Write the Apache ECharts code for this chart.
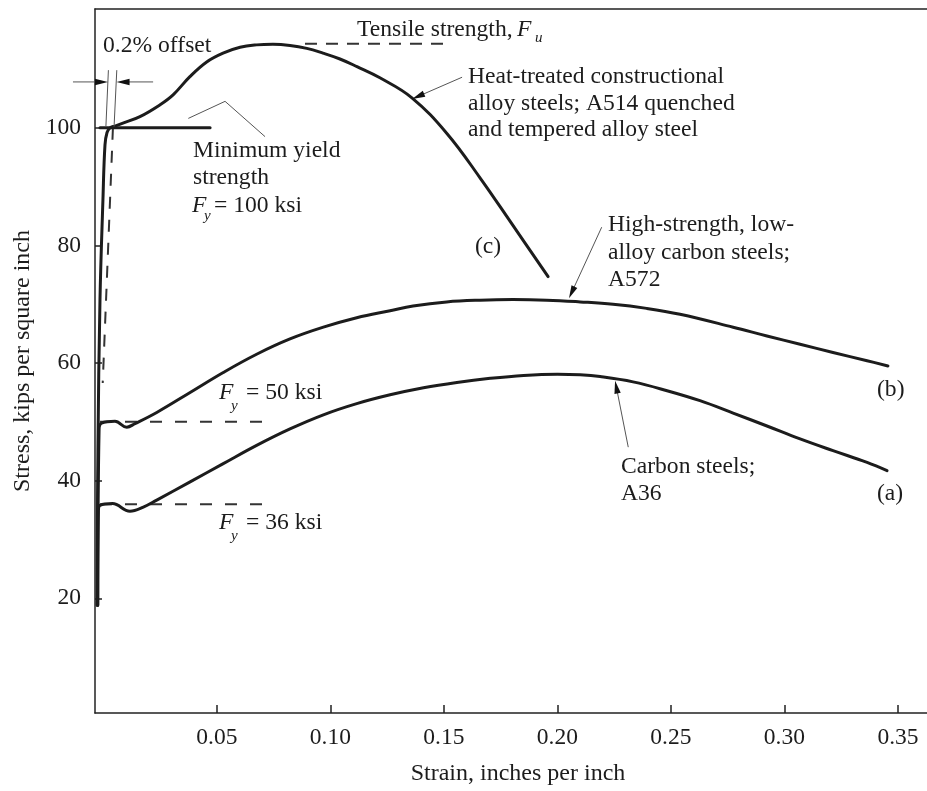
<!DOCTYPE html>
<html>
<head>
<meta charset="utf-8">
<script src="https://cdn.jsdelivr.net/npm/echarts@6/dist/echarts.min.js"></script>
<style>
  html, body { margin: 0; padding: 0; background: #fff; }
  #chart { width: 927px; height: 791px; }
</style>
</head>
<body>
<div id="chart"></div>
<script>
// Stress–strain curves for three structural steels.
// x = strain (in./in.), y = stress (ksi)

const xTicks = [0.05, 0.10, 0.15, 0.20, 0.25, 0.30, 0.35];
const yTicks = [20, 40, 60, 80, 100];

// (a) Carbon steel, A36
const carbonA36 = [
  [-0.0025, 18.8], [-0.0022, 34.9], [-0.0015, 35.8], [0.0040, 36.1], [0.0117, 34.8],
  [0.0176, 35.5], [0.0235, 36.7], [0.0382, 39.8], [0.0528, 42.9], [0.0675, 46.0],
  [0.0822, 48.8], [0.0969, 51.2], [0.1116, 53.1], [0.1263, 54.6], [0.1410, 55.8],
  [0.1557, 56.7], [0.1704, 57.4], [0.1851, 57.9], [0.2000, 58.1], [0.2100, 58.0],
  [0.2188, 57.7], [0.2333, 56.8], [0.2483, 55.3], [0.2628, 53.6], [0.2774, 51.5],
  [0.2923, 49.3], [0.3069, 47.1], [0.3214, 45.1], [0.3364, 43.1], [0.3452, 41.7]
];

// (b) High-strength low-alloy steel, A572
const hslaA572 = [
  [-0.0025, 18.8], [-0.0019, 48.8], [-0.0008, 49.8], [0.0051, 50.1], [0.0103, 49.1],
  [0.0139, 49.7], [0.0235, 51.6], [0.0382, 55.0], [0.0528, 58.4], [0.0675, 61.5],
  [0.0822, 64.1], [0.0969, 66.1], [0.1116, 67.7], [0.1263, 68.9], [0.1364, 69.7],
  [0.1512, 70.4], [0.1659, 70.7], [0.1804, 70.8], [0.1953, 70.7], [0.2100, 70.4],
  [0.2245, 70.0], [0.2393, 69.3], [0.2540, 68.3], [0.2774, 66.1], [0.2923, 64.6],
  [0.3069, 63.2], [0.3214, 61.8], [0.3364, 60.4], [0.3456, 59.5]
];

// (c) Quenched and tempered alloy steel, A514
const alloyA514 = [
  [-0.0028, 18.8], [-0.0024, 45.4], [-0.0015, 70.8], [-0.0002, 87.8], [0.0007, 97.1],
  [0.0016, 99.2], [0.0029, 100.0], [0.0051, 100.3], [0.0086, 100.8], [0.0161, 101.9],
  [0.0249, 103.9], [0.0307, 105.6], [0.0381, 108.7], [0.0455, 111.2], [0.0527, 112.7],
  [0.0602, 113.7], [0.0675, 114.1], [0.0747, 114.2], [0.0822, 114.0], [0.0896, 113.5],
  [0.0967, 112.7], [0.1042, 111.7], [0.1117, 110.4], [0.1218, 108.5], [0.1359, 105.1],
  [0.1514, 99.0], [0.1659, 91.5], [0.1804, 83.4], [0.1959, 74.7]
];

// Idealised yield plateau at Fy = 100 ksi
const a514Plateau = [[-0.0015, 100], [0.0470, 100]];

// Reference lines (dashed)
const offsetLine = [[0.0042, 100], [-0.0003, 56.6]];
const yield50Line = [[-0.0015, 50], [0.0712, 50]];
const yield36Line = [[-0.0015, 36], [0.0712, 36]];
const tensileLine = [[0.0888, 114.3], [0.1496, 114.3]];

// Thin leader lines: [x1, y1, x2, y2, arrowhead at end (1) or not (0)]
const leaderLines = [
  [0.0022, 109.8, 0.0011, 100.2, 0],
  [0.0059, 109.8, 0.0047, 100.2, 0],
  [0.0374, 101.6, 0.0536, 104.5, 0],
  [0.0536, 104.5, 0.0712, 98.5, 0],
  [-0.0134, 107.8, 0.0020, 107.8, 1],
  [0.0219, 107.8, 0.0058, 107.8, 1],
  [0.1580, 108.6, 0.1360, 104.9, 1],
  [0.2195, 83.1, 0.2051, 71.0, 1],
  [0.2312, 45.7, 0.2254, 57.0, 1]
];

const FONT = '"Liberation Serif", "Times New Roman", serif';
const INK = '#1c1c1c';

function curve(name, data) {
  return {
    name, type: 'line', data, symbol: 'none', showSymbol: false, smooth: 0.4,
    clip: false, silent: true, animation: false, z: 3,
    lineStyle: { color: INK, width: 3, cap: 'round', join: 'round' }
  };
}
function dashed(name, data, dash) {
  return {
    name, type: 'line', data, symbol: 'none', showSymbol: false,
    clip: false, silent: true, animation: false, z: 2,
    lineStyle: { color: '#333', width: 2, type: dash }
  };
}

// Leader line, optionally ending in a filled arrowhead whose tip sits on the end point
function renderLeader(params, api) {
  const p1 = api.coord([api.value(0), api.value(1)]);
  const p2 = api.coord([api.value(2), api.value(3)]);
  const hasHead = api.value(4) === 1;
  const children = [];
  const dx = p2[0] - p1[0], dy = p2[1] - p1[1];
  const len = Math.sqrt(dx * dx + dy * dy) || 1;
  const ux = dx / len, uy = dy / len;
  const headLen = 13, headHalf = 3.2;
  const end = hasHead ? [p2[0] - ux * headLen * 0.8, p2[1] - uy * headLen * 0.8] : p2;
  children.push({
    type: 'line',
    shape: { x1: p1[0], y1: p1[1], x2: end[0], y2: end[1] },
    style: { stroke: '#555', lineWidth: 1 }
  });
  if (hasHead) {
    const bx = p2[0] - ux * headLen, by = p2[1] - uy * headLen;
    children.push({
      type: 'polygon',
      shape: { points: [[p2[0], p2[1]], [bx - uy * headHalf, by + ux * headHalf], [bx + uy * headHalf, by - ux * headHalf]] },
      style: { fill: '#111' }
    });
  }
  return { type: 'group', children };
}

// Text annotations: [text, left x, baseline y, font size, italic]
const FS = 23.6;
const notes = [
  ['0.2% offset', 103, 54, FS],
  ['Tensile strength,', 357, 38, FS],
  ['F', 517, 38, FS, true],
  ['u', 535, 43, 15, true],
  ['Heat-treated constructional', 468, 85, FS],
  ['alloy steels; A514 quenched', 468, 111.5, FS],
  ['and tempered alloy steel', 468, 138, FS],
  ['Minimum yield', 193, 158.5, FS],
  ['strength', 193, 186, FS],
  ['F', 192, 213.5, FS, true],
  ['y', 204, 221, 15, true],
  ['= 100 ksi', 214, 213.5, FS],
  ['(c)', 475, 255, FS],
  ['High-strength, low-', 608, 233, FS],
  ['alloy carbon steels;', 608, 261, FS],
  ['A572', 608, 288, FS],
  ['F', 219, 401, FS, true],
  ['y', 231, 411, 15, true],
  ['= 50 ksi', 246, 401, FS],
  ['F', 219, 531, FS, true],
  ['y', 231, 541, 15, true],
  ['= 36 ksi', 246, 531, FS],
  ['(b)', 877, 398, FS],
  ['Carbon steels;', 621, 475, FS],
  ['A36', 621, 501.5, FS],
  ['(a)', 877, 501.5, FS]
];

const graphic = notes.map(([t, x, b, fs, it]) => ({
  type: 'text', x: x, y: b - 0.34 * fs, silent: true, z: 10,
  style: {
    text: t, fill: INK,
    font: (it ? 'italic ' : '') + fs + 'px ' + FONT,
    align: 'left', verticalAlign: 'middle',
    textAlign: 'left', textVerticalAlign: 'middle'
  }
}));

const chart = echarts.init(document.getElementById('chart'), null, { renderer: 'canvas' });

const axisLine = { show: true, onZero: false, lineStyle: { color: '#222', width: 1.5 } };

chart.setOption({
  backgroundColor: '#fff',
  animation: false,
  grid: { left: 95, right: 0, top: 9, bottom: 76, containLabel: false },
  xAxis: [{
    type: 'value', min: -0.0037, max: 0.3628,
    axisLine: axisLine,
    axisTick: { show: true, inside: true, length: 8, customValues: xTicks, lineStyle: { color: '#222', width: 1.5 } },
    axisLabel: {
      show: true, customValues: xTicks, margin: 13,
      formatter: v => v.toFixed(2),
      fontFamily: FONT, fontSize: 23.5, color: INK
    },
    splitLine: { show: false },
    name: 'Strain, inches per inch', nameLocation: 'middle', nameGap: 49,
    nameTextStyle: { fontFamily: FONT, fontSize: 24, color: INK, padding: [0, 0, 0, 14] }
  }, {
    type: 'value', position: 'top', min: -0.0037, max: 0.3628,
    axisLine: axisLine, axisTick: { show: false }, axisLabel: { show: false },
    splitLine: { show: false }
  }],
  yAxis: [{
    type: 'value', min: 0.5, max: 120.2,
    axisLine: axisLine,
    axisTick: { show: true, inside: true, length: 7, customValues: yTicks, lineStyle: { color: '#222', width: 1.5 } },
    axisLabel: {
      show: true, customValues: yTicks, margin: 14,
      fontFamily: FONT, fontSize: 23.5, color: INK
    },
    splitLine: { show: false },
    name: 'Stress, kips per square inch', nameLocation: 'middle', nameGap: 60,
    nameTextStyle: { fontFamily: FONT, fontSize: 24, color: INK }
  }],
  series: [
    dashed('0.2% offset', offsetLine, [12, 11]),
    dashed('Fy = 50 ksi', yield50Line, [12, 13]),
    dashed('Fy = 36 ksi', yield36Line, [12, 13]),
    dashed('Tensile strength', tensileLine, [12, 9]),
    curve('A36', carbonA36),
    curve('A572', hslaA572),
    curve('A514', alloyA514),
    curve('A514 plateau', a514Plateau),
    {
      name: 'leaders', type: 'custom', renderItem: renderLeader,
      data: leaderLines, clip: false, silent: true, animation: false, z: 4,
      encode: { x: [0, 2], y: [1, 3] }
    }
  ],
  graphic: graphic
});
</script>
</body>
</html>
